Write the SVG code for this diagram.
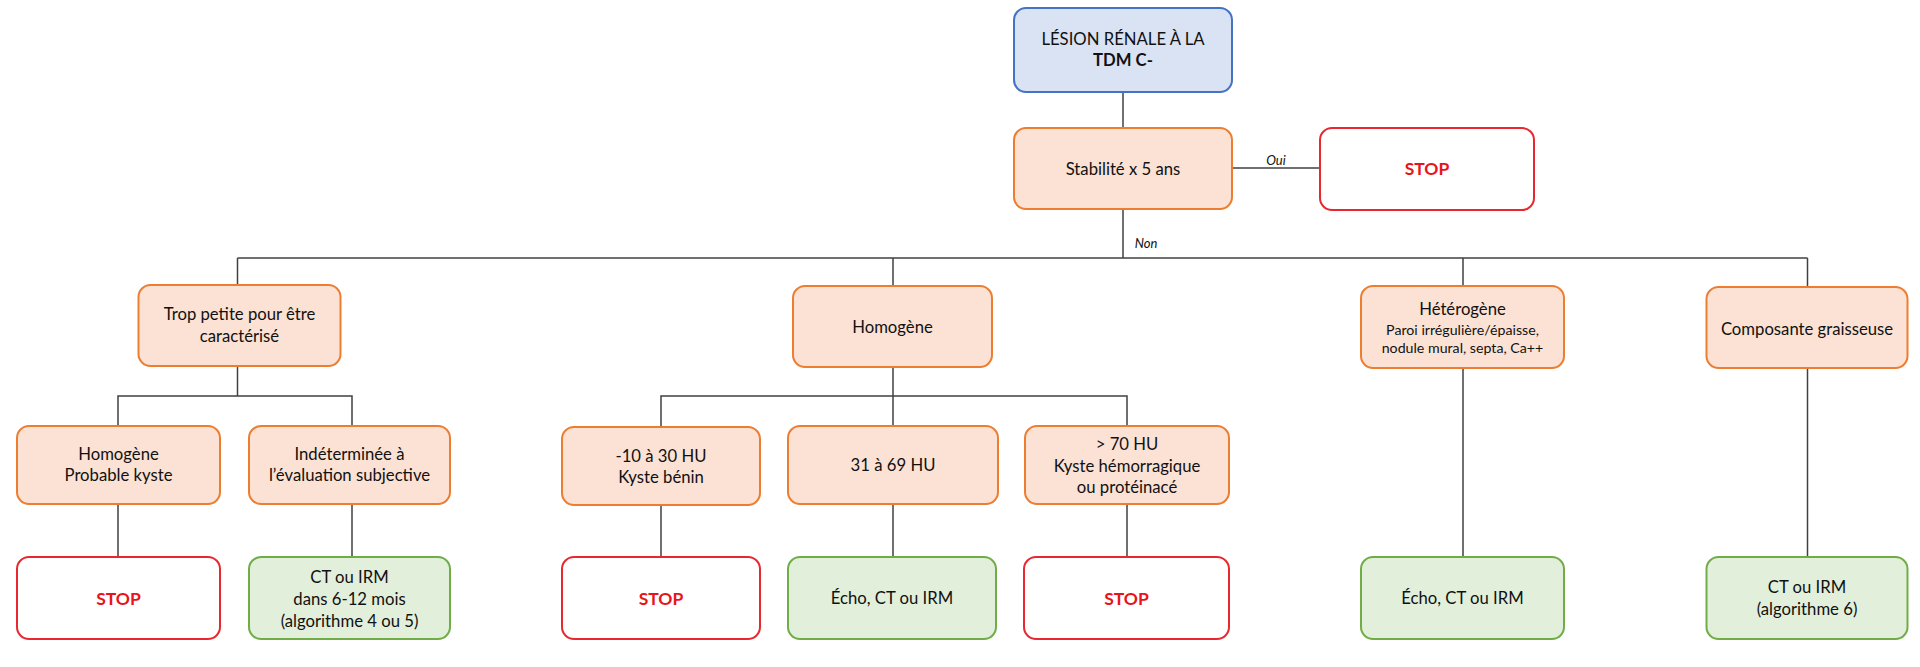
<svg xmlns="http://www.w3.org/2000/svg" width="1920" height="667" viewBox="0 0 1920 667">
<style>
  text { font-family: Lato, "Liberation Sans", sans-serif; font-size: 16.7px; fill: #111111; text-anchor: middle; }
  .blue { fill: #DAE3F3; stroke: #4472C4; stroke-width: 2; }
  .orange { fill: #FBE2D4; stroke: #ED7D31; stroke-width: 2; }
  .red { fill: #FFFFFF; stroke: #E8282E; stroke-width: 2; }
  .green { fill: #E2EFDA; stroke: #70AD47; stroke-width: 2; }
  .stop { fill: #E8141C; font-size: 17.5px; font-weight: bold; }
  .lbl { font-style: italic; font-size: 13px; }
  .small { font-size: 14.2px; }
  .b { font-weight: bold; }
  #connectors path { fill: none; stroke: #404040; stroke-width: 1.5; }
</style>
<rect width="1920" height="667" fill="#FFFFFF"/>
<g id="connectors">
  <path d="M1123 92 V128"/>
  <path d="M1232 168 H1320"/>
  <path d="M1123 209 V258"/>
  <path d="M237.5 258 H1807.5"/>
  <path d="M237.5 258 V285"/>
  <path d="M893 258 V286"/>
  <path d="M1463 258 V286"/>
  <path d="M1807.5 258 V287"/>
  <path d="M237.5 366 V396"/>
  <path d="M118 426 V396 H352 V426"/>
  <path d="M893 367 V426"/>
  <path d="M661 426 V396 H1127 V426"/>
  <path d="M118 504 V557"/>
  <path d="M352 504 V557"/>
  <path d="M661 505 V557"/>
  <path d="M893 504 V557"/>
  <path d="M1127 504 V557"/>
  <path d="M1463 368 V557"/>
  <path d="M1807.5 368 V557"/>
  <text class="lbl" x="1276" y="165">Oui</text>
  <text class="lbl" x="1146" y="248">Non</text>
</g>
<g id="n_root">
  <rect class="blue" x="1014" y="8" width="218" height="84" rx="12"/>
  <text x="1123" y="44.5">LÉSION RÉNALE À LA</text>
  <text class="b" x="1123" y="66">TDM C-</text>
</g>
<g id="n_stab">
  <rect class="orange" x="1014" y="128" width="218" height="81" rx="12"/>
  <text x="1123" y="174.5">Stabilité x 5 ans</text>
</g>
<g id="n_stop0">
  <rect class="red" x="1320" y="128" width="214" height="82" rx="12"/>
  <text class="stop" x="1427" y="175">STOP</text>
</g>
<g id="n_trop">
  <rect class="orange" x="138.5" y="285" width="202" height="81" rx="12"/>
  <text x="239.5" y="320">Trop petite pour être</text>
  <text x="239.5" y="341.5">caractérisé</text>
</g>
<g id="n_homog">
  <rect class="orange" x="793" y="286" width="199" height="81" rx="12"/>
  <text x="892.5" y="332.5">Homogène</text>
</g>
<g id="n_hetero">
  <rect class="orange" x="1361" y="286" width="203" height="82" rx="12"/>
  <text x="1462.5" y="315">Hétérogène</text>
  <text class="small" x="1462.5" y="335">Paroi irrégulière/épaisse,</text>
  <text class="small" x="1462.5" y="353">nodule mural, septa, Ca++</text>
</g>
<g id="n_graisse">
  <rect class="orange" x="1706.5" y="287" width="201" height="81" rx="12"/>
  <text x="1807" y="334.5">Composante graisseuse</text>
</g>
<g id="n_hpk">
  <rect class="orange" x="17" y="426" width="203" height="78" rx="12"/>
  <text x="118.5" y="459.5">Homogène</text>
  <text x="118.5" y="481">Probable kyste</text>
</g>
<g id="n_indet">
  <rect class="orange" x="249" y="426" width="201" height="78" rx="12"/>
  <text x="349.5" y="459.5">Indéterminée à</text>
  <text x="349.5" y="481">l’évaluation subjective</text>
</g>
<g id="n_m10">
  <rect class="orange" x="562" y="427" width="198" height="78" rx="12"/>
  <text x="661" y="461.5">-10 à 30 HU</text>
  <text x="661" y="483">Kyste bénin</text>
</g>
<g id="n_31">
  <rect class="orange" x="788" y="426" width="210" height="78" rx="12"/>
  <text x="893" y="471">31 à 69 HU</text>
</g>
<g id="n_70">
  <rect class="orange" x="1025" y="426" width="204" height="78" rx="12"/>
  <text x="1127" y="450">&gt; 70 HU</text>
  <text x="1127" y="471.5">Kyste hémorragique</text>
  <text x="1127" y="493">ou protéinacé</text>
</g>
<g id="n_stop1">
  <rect class="red" x="17" y="557" width="203" height="82" rx="12"/>
  <text class="stop" x="118.5" y="604.5">STOP</text>
</g>
<g id="n_ct1">
  <rect class="green" x="249" y="557" width="201" height="82" rx="12"/>
  <text x="349.5" y="583">CT ou IRM</text>
  <text x="349.5" y="605">dans 6-12 mois</text>
  <text x="349.5" y="626.5">(algorithme 4 ou 5)</text>
</g>
<g id="n_stop2">
  <rect class="red" x="562" y="557" width="198" height="82" rx="12"/>
  <text class="stop" x="661" y="604.5">STOP</text>
</g>
<g id="n_echo1">
  <rect class="green" x="788" y="557" width="208" height="82" rx="12"/>
  <text x="892" y="604">Écho, CT ou IRM</text>
</g>
<g id="n_stop3">
  <rect class="red" x="1024" y="557" width="205" height="82" rx="12"/>
  <text class="stop" x="1126.5" y="604.5">STOP</text>
</g>
<g id="n_echo2">
  <rect class="green" x="1361" y="557" width="203" height="82" rx="12"/>
  <text x="1462.5" y="604">Écho, CT ou IRM</text>
</g>
<g id="n_ct2">
  <rect class="green" x="1706.5" y="557" width="201" height="82" rx="12"/>
  <text x="1807" y="592.5">CT ou IRM</text>
  <text x="1807" y="615">(algorithme 6)</text>
</g>
</svg>
